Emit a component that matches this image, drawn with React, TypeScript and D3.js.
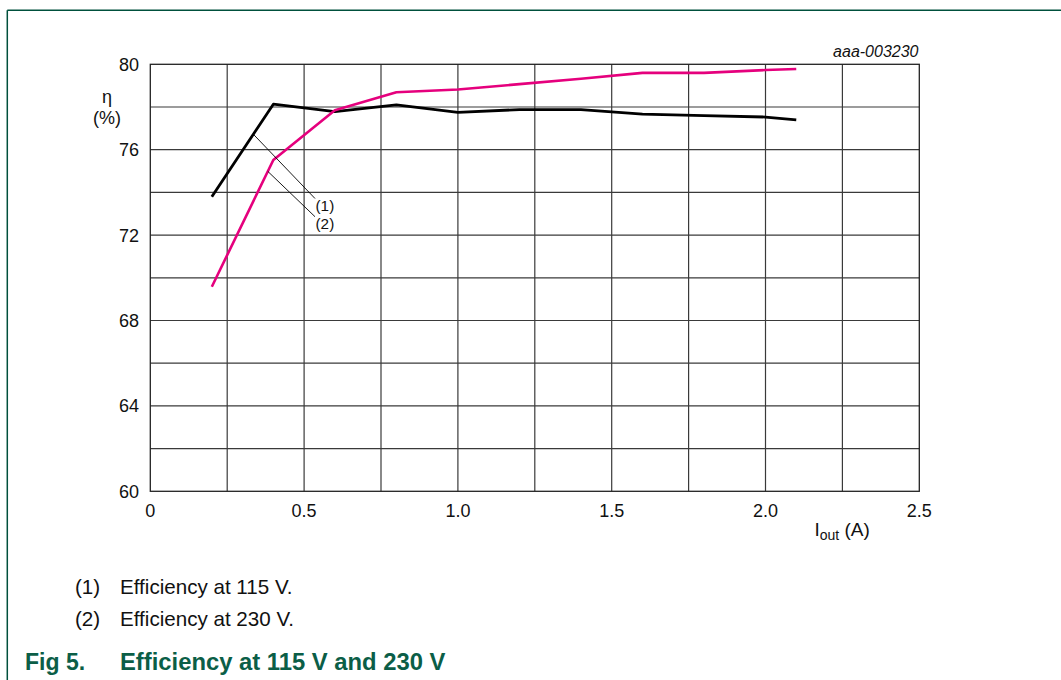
import React from "react";
import * as d3 from "d3";

const currents = [0.2, 0.4, 0.6, 0.8, 1.0, 1.2, 1.4, 1.6, 1.8, 2.0, 2.1];
const eff115 = [73.8, 78.13, 77.78, 78.1, 77.75, 77.88, 77.88, 77.67, 77.6, 77.53, 77.4];
const eff230 = [69.58, 75.52, 77.85, 78.69, 78.82, 79.07, 79.32, 79.6, 79.6, 79.73, 79.78];
const xTicks = [0, 0.5, 1.0, 1.5, 2.0, 2.5];
const xTickLabels = ["0", "0.5", "1.0", "1.5", "2.0", "2.5"];
const xGrid = [0.25, 0.5, 0.75, 1.0, 1.25, 1.5, 1.75, 2.0, 2.25];
const yTicks = [60, 64, 68, 72, 76, 80];
const yGrid = [62, 64, 66, 68, 70, 72, 74, 76, 78];
const legendItems = ["Efficiency at 115 V.", "Efficiency at 230 V."];
const leaderAt = [0.335, 0.382];

const FONT = "'Liberation Sans', Arial, sans-serif";
const GREEN = "#0b5e47";

export default function App() {
  const x = d3.scaleLinear().domain([0, 2.5]).range([150.3, 919.3]);
  const y = d3.scaleLinear().domain([60, 80]).range([491.3, 64.3]);
  const pts115 = currents.map((c, i) => [c, eff115[i]] as [number, number]);
  const pts230 = currents.map((c, i) => [c, eff230[i]] as [number, number]);
  const line = d3
    .line<[number, number]>()
    .x((d) => x(d[0]))
    .y((d) => y(d[1]));
  const interp = (arr: number[], v: number) => {
    const i = d3.bisectLeft(currents, v);
    const t = (v - currents[i - 1]) / (currents[i] - currents[i - 1]);
    return arr[i - 1] + t * (arr[i] - arr[i - 1]);
  };
  const leaderEnds = [
    { x: 315, y: 198.5 },
    { x: 315, y: 216.7 },
  ];
  const series = [eff115, eff230];

  return (
    <svg
      width={1061}
      height={680}
      style={{ position: "absolute", left: 0, top: 0, background: "#fff" }}
      fontFamily={FONT}
    >
      {/* page border */}
      <line x1={7.3} x2={1061} y1={10.3} y2={10.3} stroke="#00503c" strokeWidth={1.5} />
      <line x1={7.3} x2={7.3} y1={10.3} y2={680} stroke="#00503c" strokeWidth={1.5} />

      {/* grid */}
      {xGrid.map((g) => (
        <line key={"xg" + g} x1={x(g)} x2={x(g)} y1={y(80)} y2={y(60)} stroke="#3a3a3a" strokeWidth={1.2} />
      ))}
      {yGrid.map((g) => (
        <line key={"yg" + g} x1={x(0)} x2={x(2.5)} y1={y(g)} y2={y(g)} stroke="#3a3a3a" strokeWidth={1.2} />
      ))}
      <rect x={x(0)} y={y(80)} width={x(2.5) - x(0)} height={y(60) - y(80)} fill="none" stroke="#222" strokeWidth={1.3} />

      {/* y tick labels */}
      {yTicks.map((t) => (
        <text key={"yt" + t} x={139} y={y(t) + 6.4} textAnchor="end" fontSize={18} fill="#111">
          {t}
        </text>
      ))}
      {/* x tick labels */}
      {xTicks.map((t, i) => (
        <text key={"xt" + t} x={x(t)} y={516.7} textAnchor="middle" fontSize={18} fill="#111">
          {xTickLabels[i]}
        </text>
      ))}

      {/* axis titles */}
      <text x={107} y={103} textAnchor="middle" fontSize={18} fill="#111">
        η
      </text>
      <text x={107} y={123.5} textAnchor="middle" fontSize={18} fill="#111">
        (%)
      </text>
      <text x={814.5} y={535.5} fontSize={19} fill="#111">
        I
        <tspan fontSize={14} dy={4.5}>
          out
        </tspan>
        <tspan dy={-4.5}> (A)</tspan>
      </text>
      <text x={918.5} y={57.3} textAnchor="end" fontSize={16} fontStyle="italic" fill="#111">
        aaa-003230
      </text>

      {/* series */}
      <path d={line(pts115) || ""} fill="none" stroke="#000" strokeWidth={2.8} strokeLinejoin="round" />
      <path d={line(pts230) || ""} fill="none" stroke="#e5007d" strokeWidth={2.6} strokeLinejoin="round" />

      {/* leader lines & labels */}
      {leaderAt.map((v, i) => (
        <g key={"ld" + i}>
          <line
            x1={x(v)}
            y1={y(interp(series[i], v))}
            x2={leaderEnds[i].x}
            y2={leaderEnds[i].y}
            stroke="#000"
            strokeWidth={0.9}
          />
          <text x={315.5} y={leaderEnds[i].y + 12} fontSize={15.3} fill="#111">
            ({i + 1})
          </text>
        </g>
      ))}

      {/* legend */}
      {legendItems.map((s, i) => (
        <g key={"lg" + i}>
          <text x={75} y={593.5 + i * 32.2} fontSize={20.6} fill="#111">
            ({i + 1})
          </text>
          <text x={120} y={593.5 + i * 32.2} fontSize={20.6} fill="#111">
            {s}
          </text>
        </g>
      ))}

      {/* caption */}
      <text x={25} y={670} fontSize={23} fontWeight="bold" fill={GREEN}>
        Fig 5.
      </text>
      <text x={120} y={670} fontSize={23.8} fontWeight="bold" fill={GREEN}>
        Efficiency at 115 V and 230 V
      </text>
    </svg>
  );
}
